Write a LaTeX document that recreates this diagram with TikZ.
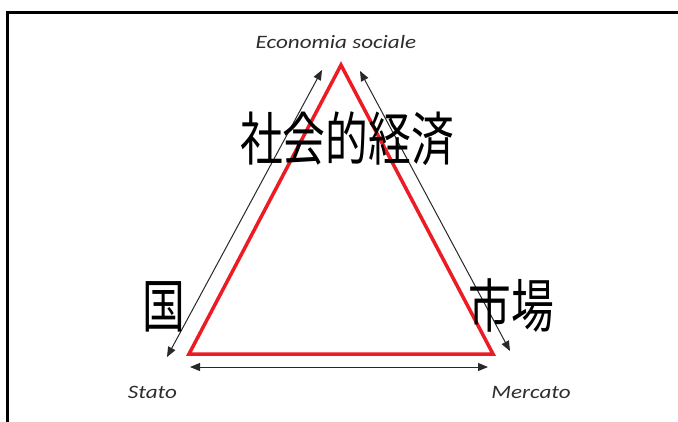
\documentclass[tikz,border=0pt]{standalone}
\usepackage{fontspec}
\newfontfamily\cjk{Noto Sans CJK JP}
\newfontfamily\lab{Carlito}
\usetikzlibrary{arrows.meta}
\definecolor{tri}{RGB}{235,28,36}
\definecolor{arr}{RGB}{40,40,40}
\definecolor{labc}{RGB}{45,45,45}
\tikzset{
  tribox/.style={draw=tri, line width=3.5bp, line join=miter},
  dblarrow/.style={draw=arr, line width=1bp, {Triangle[length=10bp,width=8bp]}-{Triangle[length=10bp,width=8bp]}},
  latlab/.style={inner sep=0pt, anchor=base, text=labc, font=\lab\itshape\fontsize{19}{22}\selectfont},
  cjklab/.style={inner sep=0pt, anchor=center, font=\cjk\fontsize{58}{60}\selectfont}
}
\begin{document}
\begin{tikzpicture}[x=1bp,y=-1bp]
\useasboundingbox (0,0) rectangle (678,421);
\clip (0,0) rectangle (678,421);
\draw[line width=3bp] (7,12) rectangle (700,450);
% triangle vertices
\coordinate (A) at (341,65);
\coordinate (B) at (189,354);
\coordinate (C) at (493,354);
\draw[tribox] (A) -- (B) -- (C) -- cycle;
% arrow ends
\coordinate (l1) at (167,357);
\coordinate (l2) at (322,70);
\coordinate (r1) at (360,71);
\coordinate (r2) at (510,351);
\coordinate (b1) at (190,367);
\coordinate (b2) at (488,367);
\draw[dblarrow] (l1) -- (l2);
\draw[dblarrow] (r1) -- (r2);
\draw[dblarrow] (b1) -- (b2);
% labels
\node[latlab] (eco) at (336,48) {\scalebox{1.22}[1]{Economia sociale}};
\node[latlab] (sta) at (152.5,398) {\scalebox{1.22}[1]{Stato}};
\node[latlab] (mer) at (531,398) {\scalebox{1.22}[1]{Mercato}};
\node[cjklab] (soc) at (347,139) {\scalebox{0.74}[1]{社会的経済}};
\node[cjklab] (kuni) at (164,307) {\scalebox{0.74}[1]{国}};
\node[cjklab] (ichiba) at (511,306) {\scalebox{0.74}[1]{市場}};
\end{tikzpicture}
\end{document}
